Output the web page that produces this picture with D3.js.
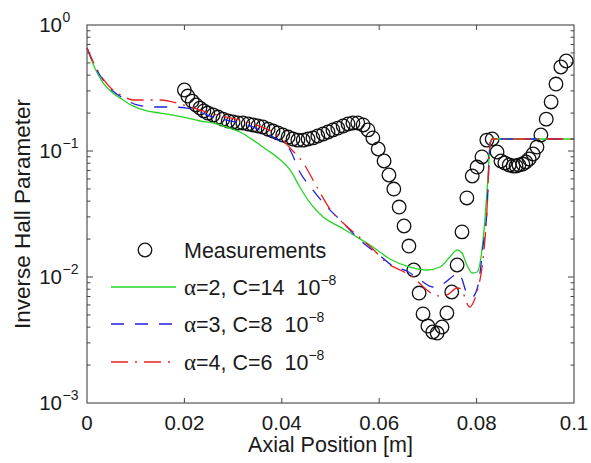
<!DOCTYPE html>
<html><head><meta charset="utf-8">
<script src="https://cdn.jsdelivr.net/npm/d3@7"></script>
<style>
html,body{margin:0;padding:0;background:#fff;}
svg{display:block;}
text{font-family:"Liberation Sans",Arial,sans-serif;fill:#1a1a1a;}
</style></head>
<body>
<svg id="chart" width="591" height="463"></svg>
<script>
// ---- data ----
const xTicks = [0, 0.02, 0.04, 0.06, 0.08, 0.1];
const xTickLabels = ["0", "0.02", "0.04", "0.06", "0.08", "0.1"];
const yTickExponents = [0, -1, -2, -3];
const legendLabels = ["Measurements", "=2, C=14  10", "=3, C=8  10", "=4, C=6  10"];
const legendAlphas = ["", "\u03b1", "\u03b1", "\u03b1"];

const measX = [0.0200,0.0207,0.0216,0.0224,0.0232,0.0240,0.0248,0.0259,0.0269,0.0279,0.0290,0.0300,0.0310,0.0320,0.0331,0.0341,0.0351,0.0361,0.0372,0.0382,0.0392,0.0402,0.0413,0.0423,0.0433,0.0444,0.0454,0.0464,0.0474,0.0485,0.0495,0.0505,0.0515,0.0526,0.0536,0.0546,0.0556,0.0567,0.0577,0.0587,0.0598,0.0610,0.0620,0.0630,0.0641,0.0651,0.0661,0.0671,0.0682,0.0690,0.0700,0.0710,0.0719,0.0729,0.0739,0.0749,0.0760,0.0770,0.0780,0.0791,0.0801,0.0811,0.0821,0.0832,0.0842,0.0850,0.0858,0.0867,0.0875,0.0881,0.0887,0.0895,0.0901,0.0908,0.0916,0.0924,0.0932,0.0943,0.0953,0.0963,0.0973,0.0984];
const measY = [0.305,0.273,0.249,0.232,0.219,0.208,0.200,0.193,0.186,0.179,0.173,0.170,0.167,0.167,0.164,0.161,0.158,0.155,0.149,0.144,0.139,0.134,0.129,0.1245,0.122,0.122,0.1245,0.127,0.1316,0.1364,0.1415,0.147,0.152,0.158,0.164,0.167,0.167,0.161,0.147,0.127,0.1037,0.0833,0.0645,0.0499,0.0359,0.0254,0.0176,0.01136,0.00746,0.00509,0.00408,0.00366,0.00359,0.00401,0.00518,0.0076,0.01245,0.0228,0.0424,0.0633,0.0746,0.0897,0.122,0.1245,0.0982,0.0833,0.0803,0.0774,0.0760,0.0760,0.0774,0.0788,0.0818,0.0864,0.0947,0.1075,0.134,0.179,0.245,0.340,0.464,0.518];

const a2X = [0,0.0016,0.0033,0.0053,0.0074,0.0094,0.0123,0.0150,0.0177,0.0205,0.0232,0.0259,0.0287,0.0314,0.0341,0.0370,0.0390,0.0417,0.0437,0.0458,0.0485,0.0520,0.0554,0.0587,0.0622,0.0663,0.0698,0.0725,0.0745,0.0760,0.0770,0.0780,0.0791,0.0801,0.0811,0.0817,0.0823,0.0828,0.0832,0.1];
const a2Y = [0.657,0.456,0.347,0.289,0.254,0.228,0.208,0.200,0.193,0.183,0.173,0.167,0.155,0.1415,0.122,0.1018,0.0897,0.0707,0.0518,0.0387,0.0299,0.0249,0.0208,0.0173,0.0139,0.0120,0.01136,0.0120,0.0144,0.0164,0.0155,0.01245,0.01076,0.01096,0.0164,0.0283,0.0589,0.1157,0.1245,0.1245];

const a3X = [0,0.0016,0.0033,0.0053,0.0074,0.0103,0.0136,0.0170,0.0205,0.0232,0.0259,0.0287,0.0314,0.0341,0.0370,0.0396,0.0417,0.0437,0.0464,0.0493,0.0520,0.0546,0.0575,0.0602,0.0628,0.0657,0.0684,0.0710,0.0731,0.0752,0.0762,0.0770,0.0778,0.0791,0.0801,0.0807,0.0813,0.0821,0.0828,0.0832,0.1];
const a3Y = [0.657,0.473,0.366,0.299,0.263,0.232,0.2235,0.2235,0.219,0.204,0.186,0.176,0.167,0.155,0.1364,0.120,0.1018,0.0681,0.0490,0.0359,0.0283,0.0223,0.0176,0.0147,0.01223,0.01116,0.00947,0.00833,0.0088,0.01018,0.01076,0.00964,0.00774,0.00694,0.00803,0.01076,0.0173,0.0322,0.1157,0.1245,0.1245];

const a4X = [0,0.0016,0.0033,0.0053,0.0074,0.0094,0.0119,0.0150,0.0175,0.0205,0.0232,0.0259,0.0287,0.0314,0.0341,0.0370,0.0396,0.0417,0.0444,0.0472,0.0499,0.0526,0.0561,0.0587,0.0616,0.0643,0.0669,0.0698,0.0719,0.0739,0.0760,0.0770,0.0776,0.0786,0.0797,0.0803,0.0811,0.0821,0.0828,0.0832,0.1];
const a4Y = [0.657,0.481,0.373,0.305,0.273,0.254,0.254,0.254,0.245,0.228,0.2115,0.1966,0.186,0.176,0.164,0.149,0.129,0.1056,0.0803,0.0518,0.0346,0.0268,0.0204,0.0167,0.0129,0.01136,0.0100,0.00788,0.00707,0.0072,0.00818,0.00803,0.00681,0.00578,0.00681,0.00818,0.01179,0.0322,0.1157,0.1245,0.1245];

// ---- layout ----
const L = 87, R = 574, T = 25, B = 403;
const svg = d3.select("#chart");
const x = d3.scaleLinear().domain([0, 0.1]).range([L, R]);
const y = d3.scaleLog().domain([1e-3, 1]).range([B, T]);

const axisColor = "#444";
const green = "#22d422", blue = "#1f1fe6", red = "#e61f1f";

// frame
svg.append("rect").attr("x", L).attr("y", T).attr("width", R - L).attr("height", B - T)
  .attr("fill", "none").attr("stroke", axisColor).attr("stroke-width", 1.1);

// x ticks (inside, bottom and top)
const xt = svg.append("g");
xTicks.forEach((v, i) => {
  const px = x(v);
  if (i > 0 && i < xTicks.length - 1) {
    xt.append("line").attr("x1", px).attr("x2", px).attr("y1", B).attr("y2", B - 5).attr("stroke", axisColor);
    xt.append("line").attr("x1", px).attr("x2", px).attr("y1", T).attr("y2", T + 5).attr("stroke", axisColor);
  }
  xt.append("text").attr("x", px).attr("y", 430).attr("text-anchor", "middle")
    .attr("font-size", 20.5).text(xTickLabels[i]);
});

// y ticks (log, major + minor, left and right)
const yt = svg.append("g");
for (let e = -3; e < 0; e++) {
  for (let m = 2; m <= 9; m++) {
    const py = y(m * Math.pow(10, e));
    yt.append("line").attr("x1", L).attr("x2", L + 3.5).attr("y1", py).attr("y2", py).attr("stroke", axisColor);
    yt.append("line").attr("x1", R).attr("x2", R - 3.5).attr("y1", py).attr("y2", py).attr("stroke", axisColor);
  }
}
yTickExponents.forEach(e => {
  const py = y(Math.pow(10, e));
  if (e !== 0 && e !== -3) {
    yt.append("line").attr("x1", L).attr("x2", L + 6).attr("y1", py).attr("y2", py).attr("stroke", axisColor);
    yt.append("line").attr("x1", R).attr("x2", R - 6).attr("y1", py).attr("y2", py).attr("stroke", axisColor);
  }
  yt.append("text").attr("x", 62).attr("y", py + 7).attr("text-anchor", "end")
    .attr("font-size", 20.5).text("10");
  yt.append("text").attr("x", 62.5).attr("y", py - 3).attr("text-anchor", "start")
    .attr("font-size", 14).text(e === 0 ? "0" : "\u2212" + Math.abs(e));
});

// axis labels
svg.append("text").attr("x", (L + R) / 2).attr("y", 452).attr("text-anchor", "middle")
  .attr("font-size", 21.5).text("Axial Position [m]");
svg.append("text").attr("transform", `translate(30,${(T + B) / 2}) rotate(-90)`)
  .attr("text-anchor", "middle").attr("font-size", 22.5).text("Inverse Hall Parameter");

// measurements
const meas = measX.map((v, i) => [v, measY[i]]);
svg.append("g").selectAll("circle").data(meas).join("circle")
  .attr("cx", d => x(d[0])).attr("cy", d => y(d[1])).attr("r", 6.8)
  .attr("fill", "none").attr("stroke", "#111").attr("stroke-width", 1.3);

// model lines
const line = d3.line().x(d => x(d[0])).y(d => y(d[1])).curve(d3.curveMonotoneX);
const series = [
  {xs: a2X, ys: a2Y, color: green, dash: null},
  {xs: a3X, ys: a3Y, color: blue, dash: "13,11"},
  {xs: a4X, ys: a4Y, color: red, dash: "17,7,2,7"}
];
series.forEach(s => {
  svg.append("path").datum(s.xs.map((v, i) => [v, s.ys[i]]))
    .attr("d", line).attr("fill", "none").attr("stroke", s.color)
    .attr("stroke-width", 1.3).attr("stroke-dasharray", s.dash);
});

// legend
const lg = svg.append("g");
const rowY = [250, 287, 324, 362];
lg.append("circle").attr("cx", 145).attr("cy", rowY[0]).attr("r", 6.8)
  .attr("fill", "none").attr("stroke", "#111").attr("stroke-width", 1.3);
series.forEach((s, i) => {
  lg.append("line").attr("x1", 111).attr("x2", 176).attr("y1", rowY[i + 1]).attr("y2", rowY[i + 1])
    .attr("stroke", s.color).attr("stroke-width", 1.3).attr("stroke-dasharray", s.dash);
});
legendLabels.forEach((lab, i) => {
  const t = lg.append("text").attr("x", 184).attr("y", rowY[i] + 8).attr("font-size", 21.5)
    .attr("xml:space", "preserve").style("white-space", "pre");
  if (legendAlphas[i]) {
    t.append("tspan").style("font-family", "'Liberation Serif','Times New Roman',serif").attr("font-size", 23).text(legendAlphas[i]);
  }
  t.append("tspan").text(lab);
  if (i > 0) {
    t.append("tspan").attr("font-size", 14).attr("dy", -10).text("\u22128");
  }
});
</script>
</body></html>
